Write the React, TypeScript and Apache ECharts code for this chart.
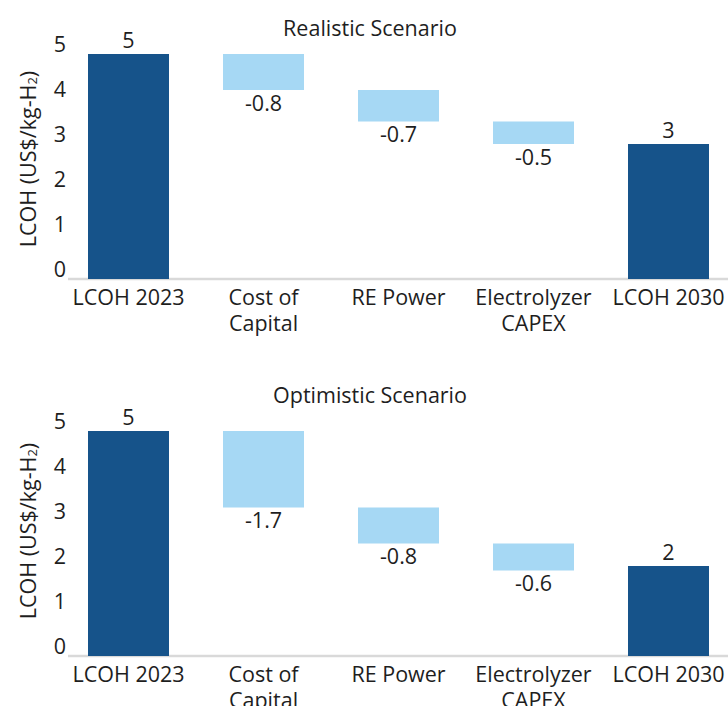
import React, { useEffect, useRef } from "react";
import * as echarts from "echarts";

const categories = ["LCOH 2023", "Cost of\nCapital", "RE Power", "Electrolyzer\nCAPEX", "LCOH 2030"];
const yTicks = [0, 1, 2, 3, 4, 5];

const realisticTitle = "Realistic Scenario";
const realisticStart = 5.0;
const realisticDeltas = [-0.8, -0.7, -0.5];
const realisticEnd = 3.0;

const optimisticTitle = "Optimistic Scenario";
const optimisticStart = 5.0;
const optimisticDeltas = [-1.7, -0.8, -0.6];
const optimisticEnd = 2.0;

const DARK = "#16538A";
const LIGHT = "#A6D8F4";
const TEXT = "#1E1E1E";
const FONT = "'Open Sans', 'Noto Sans', sans-serif";
const FS = 21.5;

function buildWaterfall(start: number, deltas: number[], end: number) {
  const base: number[] = [];
  const vis: any[] = [];
  base.push(0);
  vis.push({ value: start, itemStyle: { color: DARK }, label: { position: "top", distance: 4, formatter: String(Math.round(start)) } });
  let running = start;
  deltas.forEach((d) => {
    const next = Math.round((running + d) * 1000) / 1000;
    base.push(next);
    vis.push({ value: Math.abs(d), itemStyle: { color: LIGHT }, label: { position: "bottom", distance: 1, formatter: d.toFixed(1) } });
    running = next;
  });
  base.push(0);
  vis.push({ value: end, itemStyle: { color: DARK }, label: { position: "top", distance: 4, formatter: String(Math.round(end)) } });
  return { base, vis };
}

export default function App() {
  const ref = useRef<HTMLDivElement>(null);
  useEffect(() => {
    if (!ref.current) return;
    const chart = echarts.init(ref.current, undefined, { renderer: "svg" });
    const r = buildWaterfall(realisticStart, realisticDeltas, realisticEnd);
    const o = buildWaterfall(optimisticStart, optimisticDeltas, optimisticEnd);
    const tops = [54, 431];
    const gridH = 225;

    const xAxisCfg = (gi: number) => ({
      type: "category",
      gridIndex: gi,
      data: categories,
      axisLine: { show: false },
      axisTick: { show: false },
      axisLabel: {
        interval: 0,
        color: TEXT,
        fontFamily: FONT,
        fontSize: FS,
        lineHeight: 26,
        margin: 4,
        hideOverlap: false,
      },
    });
    const yAxisCfg = (gi: number) => ({
      type: "value",
      gridIndex: gi,
      min: 0,
      max: 5,
      interval: 1,
      splitLine: { show: false },
      axisLine: { show: false },
      axisTick: { show: false },
      axisLabel: {
        color: TEXT,
        fontFamily: FONT,
        fontSize: FS,
        margin: -5,
        verticalAlign: "bottom",
        formatter: (v: number) => (yTicks.indexOf(v) >= 0 ? String(v) : ""),
      },
    });
    const labelBase = {
      show: true,
      color: TEXT,
      fontFamily: FONT,
      fontSize: FS,
    };
    const seriesFor = (gi: number, wf: { base: number[]; vis: any[] }) => [
      {
        type: "bar",
        xAxisIndex: gi,
        yAxisIndex: gi,
        stack: "s" + gi,
        barWidth: 81,
        silent: true,
        itemStyle: { color: "transparent" },
        data: wf.base,
      },
      {
        type: "bar",
        xAxisIndex: gi,
        yAxisIndex: gi,
        stack: "s" + gi,
        barWidth: 81,
        label: labelBase,
        data: wf.vis,
      },
    ];
    const nameText = (x: number, y: number) => ({
      type: "text",
      x,
      y,
      rotation: Math.PI / 2,
      style: {
        text: "LCOH (US$/kg-H{sub|2})",
        fill: TEXT,
        fontFamily: FONT,
        fontSize: FS,
        align: "center",
        verticalAlign: "middle",
        rich: {
          sub: { fontSize: 13, fontFamily: FONT, fill: TEXT, verticalAlign: "bottom", lineHeight: 13 },
        },
      },
    });
    const titleText = (text: string, y: number) => ({
      type: "text",
      x: 370,
      y,
      style: {
        text,
        fill: TEXT,
        fontFamily: FONT,
        fontSize: FS,
        align: "center",
        verticalAlign: "middle",
      },
    });
    const baseLine = (y: number) => ({
      type: "line",
      shape: { x1: 68, y1: y, x2: 728, y2: y },
      style: { stroke: "#D9D9D9", lineWidth: 2.5 },
      z: 1,
    });

    chart.setOption({
      animation: false,
      backgroundColor: "#FFFFFF",
      grid: [
        { left: 61, width: 675, top: tops[0], height: gridH, containLabel: false, outerBoundsMode: "none" },
        { left: 61, width: 675, top: tops[1], height: gridH, containLabel: false, outerBoundsMode: "none" },
      ],
      xAxis: [xAxisCfg(0), xAxisCfg(1)],
      yAxis: [yAxisCfg(0), yAxisCfg(1)],
      series: [...seriesFor(0, r), ...seriesFor(1, o)],
      graphic: [
        baseLine(tops[0] + gridH),
        baseLine(tops[1] + gridH),
        titleText(realisticTitle, 27),
        titleText(optimisticTitle, 394),
        nameText(27, 159),
        nameText(27, 531),
      ],
    });
    return () => chart.dispose();
  }, []);
  return <div ref={ref} style={{ position: "absolute", left: 0, top: 0, width: 728, height: 706 }} />;
}
